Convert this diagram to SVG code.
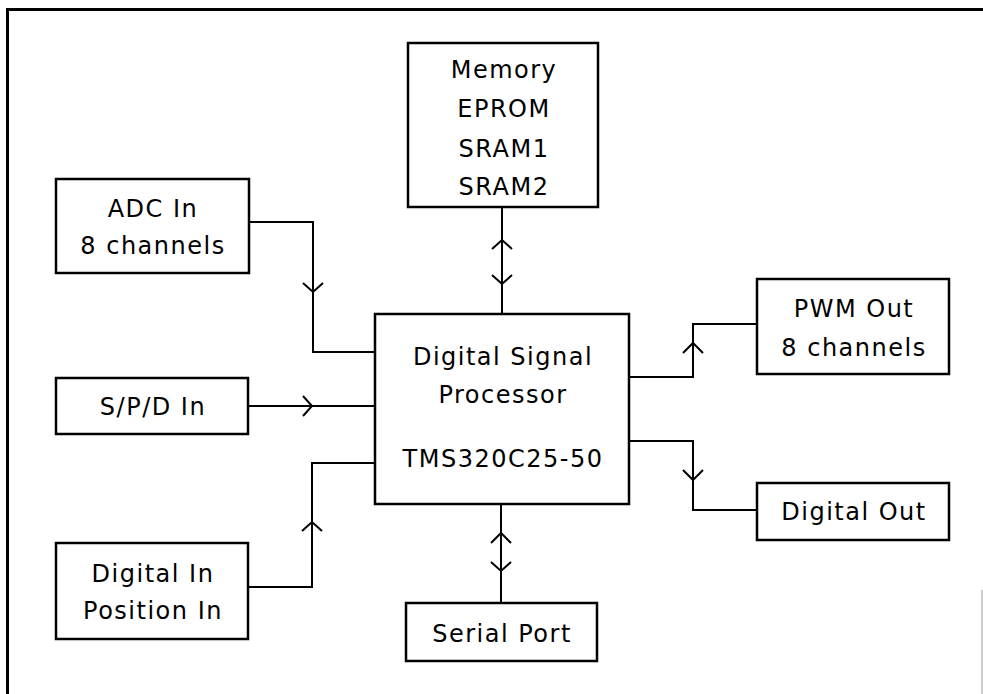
<svg xmlns="http://www.w3.org/2000/svg" width="983" height="694" viewBox="0 0 983 694">
<style>
.box{fill:#fff;stroke:#000;stroke-width:2.5}
.ln{fill:none;stroke:#000;stroke-width:2;stroke-linejoin:miter}
.ch{fill:none;stroke:#000;stroke-width:2}
text{font-family:"DejaVu Sans","Liberation Sans",sans-serif;font-size:24px;letter-spacing:1.5px;text-anchor:middle;fill:#000}
</style>
<rect width="983" height="694" fill="#fff"/>
<g id="frame">
<path d="M7.5,694 V9.5 H983" fill="none" stroke="#000" stroke-width="3"/>
<line x1="982" y1="590" x2="982" y2="694" stroke="#bbb" stroke-width="1.5"/>
</g>
<g id="connectors">
<polyline class="ln" points="249,222 313,222 313,352 375,352"/>
<path class="ch" d="M303,283 L313,292 L323,283"/>
<line class="ln" x1="248" y1="406" x2="375" y2="406"/>
<path class="ch" d="M303,396 L312,406 L303,416"/>
<polyline class="ln" points="248,587 312,587 312,463 375,463"/>
<path class="ch" d="M302,531 L312,522 L322,531"/>
<line class="ln" x1="502" y1="207" x2="502" y2="314"/>
<path class="ch" d="M492,249 L502,240 L512,249"/>
<path class="ch" d="M492,275 L502,284 L512,275"/>
<line class="ln" x1="501" y1="504" x2="501" y2="603"/>
<path class="ch" d="M491,543 L501,533 L511,543"/>
<path class="ch" d="M491,562 L501,571 L511,562"/>
<polyline class="ln" points="629,377 693,377 693,324 757,324"/>
<path class="ch" d="M683,353 L693,343 L703,353"/>
<polyline class="ln" points="629,441 693,441 693,510 757,510"/>
<path class="ch" d="M683,470 L693,480 L703,470"/>
</g>
<g id="memory">
<rect class="box" x="408" y="43" width="190" height="164"/>
<text x="504" y="78">Memory</text>
<text x="504" y="117">EPROM</text>
<text x="504" y="157">SRAM1</text>
<text x="504" y="195">SRAM2</text>
</g>
<g id="adc">
<rect class="box" x="56" y="179" width="193" height="94"/>
<text x="153" y="217">ADC In</text>
<text x="153" y="254">8 channels</text>
</g>
<g id="spd">
<rect class="box" x="56" y="378" width="192" height="56"/>
<text x="153" y="415">S/P/D In</text>
</g>
<g id="digitalin">
<rect class="box" x="56" y="543" width="192" height="96"/>
<text x="153" y="582">Digital In</text>
<text x="153" y="619">Position In</text>
</g>
<g id="dsp">
<rect class="box" x="375" y="314" width="254" height="190"/>
<text x="503" y="365">Digital Signal</text>
<text x="503" y="403">Processor</text>
<text x="503" y="467">TMS320C25-50</text>
</g>
<g id="pwm">
<rect class="box" x="757" y="279" width="192" height="95"/>
<text x="854" y="317">PWM Out</text>
<text x="854" y="356">8 channels</text>
</g>
<g id="digitalout">
<rect class="box" x="757" y="483" width="192" height="57"/>
<text x="854" y="520">Digital Out</text>
</g>
<g id="serial">
<rect class="box" x="406" y="603" width="191" height="58"/>
<text x="502" y="642">Serial Port</text>
</g>
</svg>
